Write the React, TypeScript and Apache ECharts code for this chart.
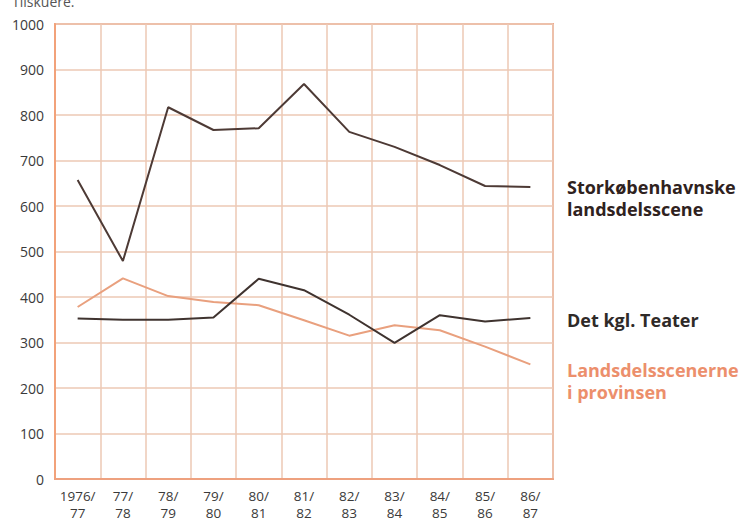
import React, { useEffect, useRef } from "react";
import * as echarts from "echarts";

const categories = ["1976/\n77", "77/\n78", "78/\n79", "79/\n80", "80/\n81", "81/\n82", "82/\n83", "83/\n84", "84/\n85", "85/\n86", "86/\n87"];
const storkobenhavn = [657, 479, 817, 767, 771, 868, 763, 730, 690, 644, 642];
const detKgl = [353, 350, 350, 355, 440, 415, 361, 299, 360, 346, 354];
const landsdels = [378, 441, 402, 389, 382, 349, 315, 338, 327, 291, 252];

const seriesNames = ["Storkøbenhavnske\nlandsdelsscene", "Det kgl. Teater", "Landsdelsscenerne\ni provinsen"];
const lineColors = ["#4d3a35", "#3f332f", "#e9a07e"];
const labelColors = ["#2f2220", "#2f2a28", "#ec8f6c"];
const labelY = [198, 320, 381];

export default function App() {
  const ref = useRef<HTMLDivElement>(null);
  useEffect(() => {
    const chart = echarts.init(ref.current!, null, { renderer: "svg" });
    const font = "'Open Sans', sans-serif";
    chart.setOption({
      animation: false,
      grid: { left: 55, right: 201, top: 24, bottom: 44, containLabel: false, outerBoundsMode: "none" },
      xAxis: {
        type: "category",
        data: categories,
        boundaryGap: true,
        axisLine: { show: true, lineStyle: { color: "#eea17f", width: 2 } },
        axisTick: { show: false },
        splitLine: { show: true, interval: 0, lineStyle: { color: "#ecc9b4", width: 1.5 } },
        axisLabel: { interval: 0, color: "#3a3a3a", fontSize: 13.5, fontFamily: font, lineHeight: 17, margin: 8 },
      },
      yAxis: {
        type: "value",
        min: 0,
        max: 1000,
        interval: 100,
        axisLine: { show: true, lineStyle: { color: "#f2a27a", width: 2 } },
        axisTick: { show: false },
        splitLine: { show: true, lineStyle: { color: "#ecc9b4", width: 1.5 } },
        axisLabel: { color: "#3a3a3a", fontSize: 14, fontFamily: font, margin: 11, formatter: (v: number) => String(v) },
      },
      graphic: [
        { type: "rect", shape: { x: 55, y: 24, width: 498, height: 455 }, style: { fill: "none", stroke: "#eea98a", lineWidth: 2 }, silent: true },
        { type: "text", left: 12, top: -6, style: { text: "Tilskuere.", fill: "#555", font: `14px ${font}` } },
        ...seriesNames.map((n, i) => ({
          type: "text",
          left: 567,
          top: labelY[i] - (n.includes("\n") ? 22 : 11),
          style: { text: n, fill: labelColors[i], font: `bold 18px ${font}`, lineHeight: 22 },
        })),
      ],
      series: [storkobenhavn, detKgl, landsdels].map((d, i) => ({
        type: "line",
        name: seriesNames[i],
        data: d,
        symbol: "none",
        lineStyle: { color: lineColors[i], width: 2 },
        z: 5 - i,
      })),
    });
    return () => chart.dispose();
  }, []);
  return <div ref={ref} style={{ width: 754, height: 523, position: "absolute", left: 0, top: 0, background: "#fff" }} />;
}
